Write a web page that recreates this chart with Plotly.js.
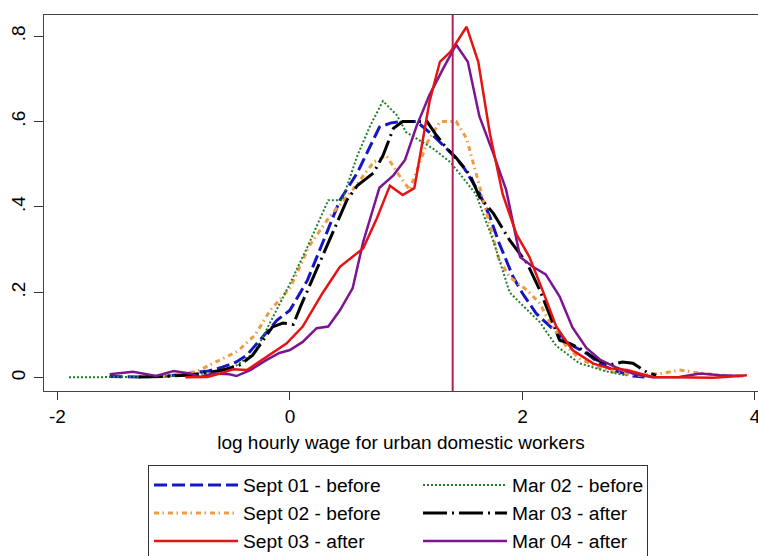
<!DOCTYPE html>
<html>
<head>
<meta charset="utf-8">
<script src="https://cdn.plot.ly/plotly-3.0.1.min.js"></script>
<style>html,body{margin:0;padding:0;background:#fff;}#chart{width:758px;height:556px;}</style>
</head>
<body>
<div id="chart"></div>
<script>
// Kernel density estimates of log hourly wage
const sept01X = [-1.55,-1.3,-1.05,-0.85,-0.7,-0.58,-0.46,-0.37,-0.26,-0.11,0,0.15,0.28,0.43,0.58,0.69,0.77,0.87,0.95,1.09,1.23,1.38,1.49,1.63,1.72,1.8,1.92,2.0,2.12,2.27,2.4,2.55,2.68,2.8,2.95,3.05];
const sept01Y = [0.003,0.002,0.004,0.01,0.016,0.025,0.037,0.053,0.088,0.135,0.158,0.228,0.315,0.416,0.48,0.54,0.587,0.597,0.6,0.6,0.568,0.528,0.495,0.432,0.377,0.315,0.236,0.198,0.15,0.112,0.08,0.057,0.03,0.016,0.004,0.002];

const sept02X = [-1.1,-0.95,-0.8,-0.63,-0.45,-0.3,-0.17,0,0.17,0.34,0.54,0.72,0.83,0.95,1.03,1.18,1.29,1.43,1.52,1.61,1.69,1.75,1.8,1.89,2.04,2.15,2.24,2.38,2.49,2.64,2.8,3.0,3.2,3.35,3.5,3.7,3.87];
const sept02Y = [0.003,0.008,0.015,0.037,0.062,0.1,0.158,0.21,0.31,0.377,0.44,0.505,0.52,0.47,0.44,0.55,0.6,0.6,0.56,0.47,0.39,0.33,0.275,0.236,0.205,0.174,0.127,0.073,0.045,0.025,0.012,0.006,0.01,0.018,0.012,0.006,0.004];

const sept03X = [-0.9,-0.71,-0.6,-0.49,-0.37,-0.2,-0.03,0.11,0.28,0.43,0.54,0.63,0.75,0.86,0.97,1.07,1.14,1.2,1.29,1.38,1.52,1.62,1.72,1.83,1.95,2.06,2.18,2.29,2.43,2.61,2.75,2.9,3.12,3.4,3.64,3.8,3.93];
const sept03Y = [0.001,0.002,0.01,0.02,0.018,0.05,0.08,0.12,0.198,0.26,0.283,0.303,0.375,0.45,0.428,0.444,0.552,0.646,0.74,0.763,0.822,0.74,0.572,0.43,0.335,0.283,0.2,0.12,0.065,0.033,0.022,0.018,0.002,0.001,0.0,0.003,0.006];

const mar02X = [-1.9,-1.6,-1.3,-1.0,-0.8,-0.6,-0.45,-0.3,-0.15,0,0.15,0.28,0.33,0.45,0.58,0.69,0.8,0.92,1.0,1.09,1.23,1.38,1.52,1.6,1.75,1.89,2.0,2.15,2.29,2.49,2.72,2.9];
const mar02Y = [0.001,0.001,0.002,0.004,0.008,0.015,0.03,0.06,0.14,0.22,0.306,0.385,0.416,0.416,0.52,0.59,0.648,0.615,0.575,0.56,0.537,0.505,0.458,0.43,0.32,0.2,0.17,0.13,0.075,0.034,0.015,0.005];

const mar03X = [-1.3,-1.1,-0.89,-0.7,-0.55,-0.43,-0.32,-0.15,-0.06,0.03,0.09,0.23,0.37,0.49,0.58,0.72,0.8,0.89,0.97,1.09,1.18,1.26,1.35,1.43,1.55,1.63,1.75,1.89,2.04,2.15,2.24,2.32,2.41,2.52,2.64,2.75,2.86,2.95,3.07,3.15];
const mar03Y = [0.002,0.003,0.006,0.012,0.02,0.03,0.053,0.119,0.128,0.125,0.166,0.252,0.338,0.416,0.45,0.48,0.52,0.584,0.6,0.6,0.6,0.568,0.537,0.515,0.474,0.424,0.385,0.322,0.268,0.205,0.142,0.088,0.08,0.065,0.042,0.03,0.037,0.034,0.013,0.006];

const mar04X = [-1.55,-1.35,-1.15,-1.0,-0.86,-0.77,-0.66,-0.52,-0.46,-0.34,-0.2,-0.09,0,0.11,0.23,0.33,0.43,0.54,0.63,0.77,0.89,0.99,1.09,1.2,1.32,1.43,1.53,1.63,1.75,1.86,1.98,2.09,2.2,2.32,2.43,2.55,2.67,2.8,2.95,3.12,3.35,3.53,3.7,3.9];
const mar04Y = [0.008,0.014,0.004,0.016,0.01,0.002,0.01,0.008,0.004,0.018,0.042,0.058,0.065,0.084,0.116,0.12,0.158,0.21,0.318,0.445,0.474,0.51,0.59,0.662,0.725,0.78,0.74,0.612,0.525,0.44,0.283,0.26,0.242,0.19,0.118,0.07,0.042,0.025,0.01,0.001,0.002,0.01,0.006,0.004];

const seriesNames = ['Sept 01 - before','Sept 02 - before','Sept 03 - after','Mar 02 - before','Mar 03 - after','Mar 04 - after'];
const xTickVals = [-2,0,2,4];
const xTickText = ['-2','0','2','4'];
const yTickVals = [0,0.2,0.4,0.6,0.8];
const yTickText = ['0','.2','.4','.6','.8'];
const cutoffX = 1.4;
const xTitle = 'log hourly wage for urban domestic workers';

const FONT = 'Liberation Sans, Arial, Helvetica, sans-serif';

function tr(x, y, name, color, width, dash, rank, lw) {
  const t = {x: x, y: y, name: name, type: 'scatter', mode: 'lines',
    line: {color: color, width: width, dash: dash}, legendrank: rank};
  if (lw) t.legendwidth = lw;
  return t;
}

const data = [
  tr(sept01X, sept01Y, seriesNames[0], '#1616c4', 3, '13px,5px', 1),
  tr(sept02X, sept02Y, seriesNames[1], '#ec9c44', 3, '5px,3.5px,1.5px,4px', 3),
  tr(mar02X, mar02Y, seriesNames[3], '#1f7f2a', 2, '2px,2px', 2, 130),
  tr(mar03X, mar03Y, seriesNames[4], '#000000', 3, '24px,5px,2px,5px', 4, 130),
  tr(mar04X, mar04Y, seriesNames[5], '#7d1590', 2.5, 'solid', 6, 130),
  tr(sept03X, sept03Y, seriesNames[2], '#e41414', 2.5, 'solid', 5)
];

const layout = {
  width: 758, height: 556,
  margin: {l: 44, r: 0, t: 15, b: 165, pad: 0, autoexpand: false},
  paper_bgcolor: '#ffffff', plot_bgcolor: '#ffffff',
  font: {family: FONT, size: 19, color: '#000'},
  showlegend: true,
  xaxis: {
    range: [-2.115, 4.026], tickvals: xTickVals, ticktext: xTickText,
    ticks: 'outside', ticklen: 8, tickwidth: 1, tickcolor: '#333',
    ticklabelstandoff: 0, ticklabeloverflow: 'allow',
    showline: true, linecolor: '#444', linewidth: 1, mirror: true,
    showgrid: false, zeroline: false,
    tickfont: {family: FONT, size: 19, color: '#000'},
    title: {text: xTitle, font: {family: FONT, size: 19, color: '#000'}, standoff: 9},
    automargin: false
  },
  yaxis: {
    range: [-0.031, 0.8496], tickvals: yTickVals, ticktext: yTickText,
    tickangle: -90,
    ticks: 'outside', ticklen: 9, tickwidth: 1, tickcolor: '#333',
    ticklabelstandoff: 1, ticklabeloverflow: 'allow',
    showline: true, linecolor: '#444', linewidth: 1, mirror: true,
    showgrid: false, zeroline: false,
    tickfont: {family: FONT, size: 19, color: '#000'},
    automargin: false
  },
  legend: {
    orientation: 'h', x: 0.1457, y: -0.1968, xanchor: 'left', yanchor: 'top',
    entrywidth: 170, entrywidthmode: 'pixels', itemwidth: 84,
    bordercolor: '#333', borderwidth: 1, bgcolor: '#fff',
    font: {family: FONT, size: 19.2, color: '#000'},
    traceorder: 'normal'
  },
  shapes: [{
    type: 'line', xref: 'x', yref: 'paper', x0: cutoffX, x1: cutoffX, y0: 0, y1: 1,
    line: {color: '#b51f58', width: 2}
  }]
};

Plotly.newPlot('chart', data, layout, {staticPlot: true, displayModeBar: false});
</script>
</body>
</html>
